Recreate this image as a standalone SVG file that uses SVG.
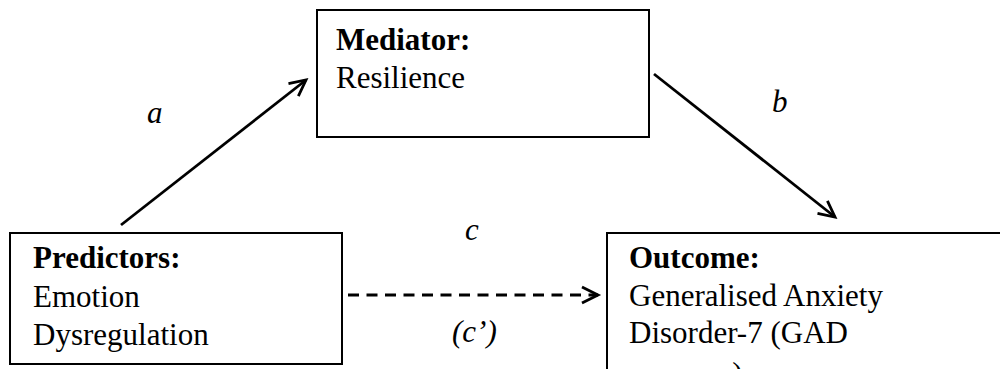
<svg xmlns="http://www.w3.org/2000/svg" width="1000" height="369" viewBox="0 0 1000 369">
  <style>
    .box { fill: #ffffff; stroke: #000000; stroke-width: 2; }
    .t { font-family: "Liberation Serif", "Times New Roman", serif; font-size: 31px; fill: #000000; }
    .b { font-weight: bold; }
    .i { font-style: italic; }
    .edge { fill: none; stroke: #000000; stroke-width: 2.8; }
    .dash { stroke-dasharray: 11 7.5; }
  </style>
  <defs>
    <marker id="open-arrow" viewBox="0 0 12 12" refX="11" refY="6" markerWidth="12" markerHeight="12" markerUnits="userSpaceOnUse" orient="auto" overflow="visible">
      <path d="M-5,-2 L11,6 L-5,14" fill="none" stroke="#000000" stroke-width="2.8"/>
    </marker>
  </defs>

  <rect width="1000" height="369" fill="#ffffff"/>

  <!-- path labels -->
  <g id="labels">
    <text class="t i" x="147" y="123">a</text>
    <text class="t i" x="772" y="112">b</text>
    <text class="t i" x="465" y="240">c</text>
    <text class="t i" x="452" y="342">(c’)</text>
  </g>

  <!-- connectors -->
  <g id="connectors">
    <line class="edge" x1="121" y1="225" x2="306" y2="80" marker-end="url(#open-arrow)"/>
    <line class="edge" x1="654" y1="74" x2="835" y2="217" marker-end="url(#open-arrow)"/>
    <line class="edge dash" x1="348" y1="295" x2="598" y2="295" marker-end="url(#open-arrow)"/>
  </g>

  <!-- mediator -->
  <g id="mediator">
    <rect class="box" x="317" y="10" width="332" height="127"/>
    <text class="t b" x="336" y="50">Mediator:</text>
    <text class="t" x="336" y="88">Resilience</text>
  </g>

  <!-- predictors -->
  <g id="predictors">
    <rect class="box" x="10" y="233" width="332" height="131"/>
    <text class="t b" x="33" y="268">Predictors:</text>
    <text class="t" x="33" y="307">Emotion</text>
    <text class="t" x="33" y="345">Dysregulation</text>
  </g>

  <!-- outcome -->
  <g id="outcome">
    <rect class="box" x="607" y="233" width="420" height="160"/>
    <text class="t b" x="629" y="268">Outcome:</text>
    <text class="t" x="629" y="305.5">Generalised Anxiety</text>
    <text class="t" x="629" y="343">Disorder-7 (GAD</text>
    <text class="t" x="629" y="384">measure)</text>
  </g>
</svg>
